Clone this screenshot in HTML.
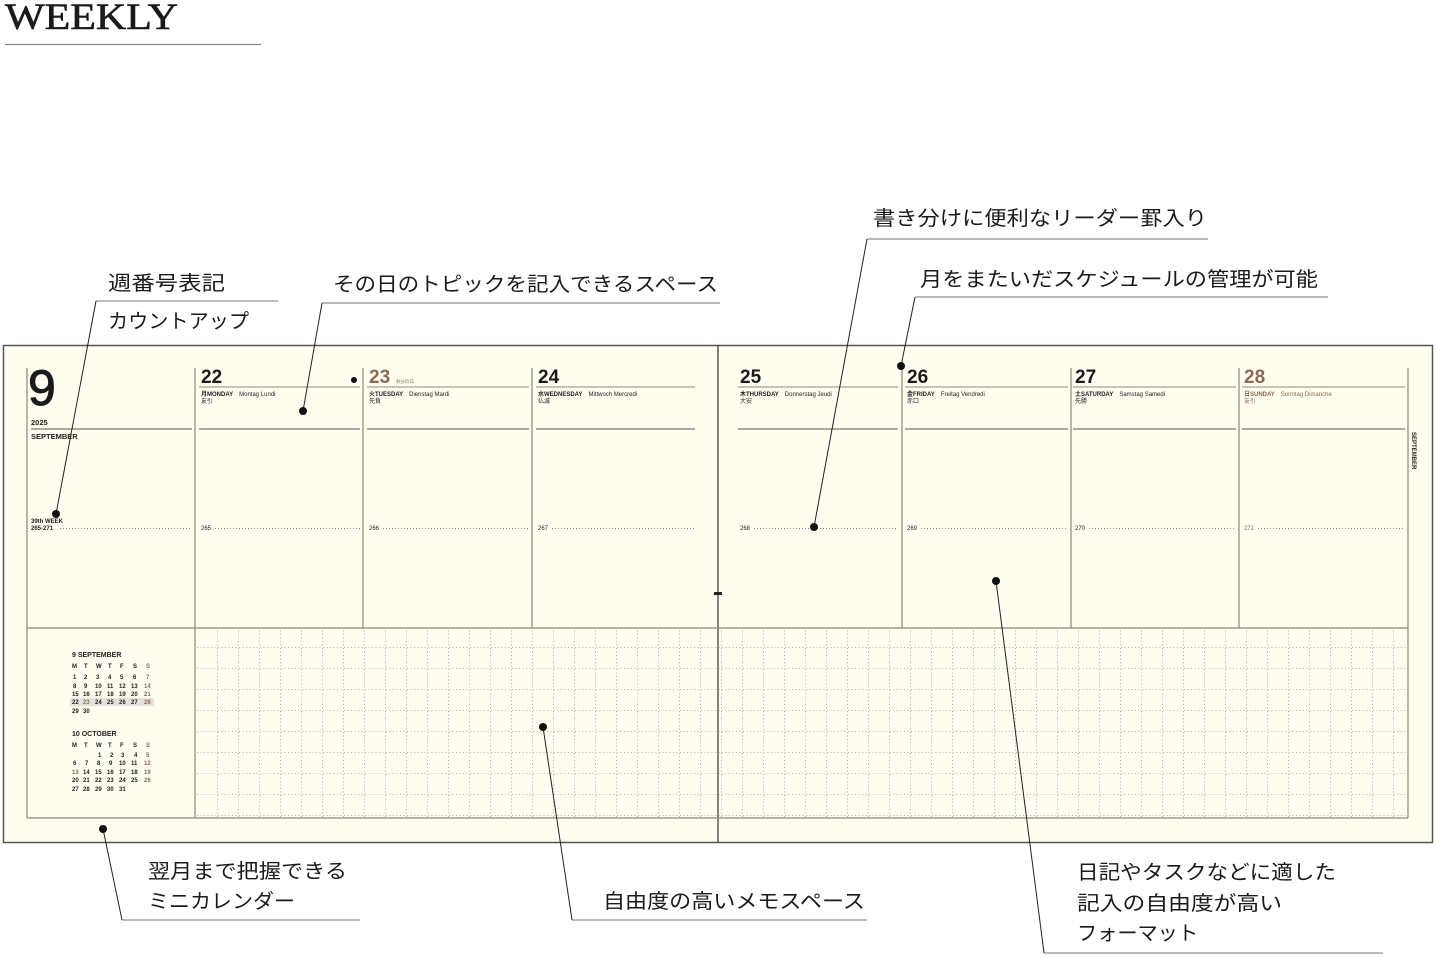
<!DOCTYPE html>
<html><head><meta charset="utf-8"><style>
html,body{margin:0;padding:0;background:#fff;}
svg{display:block}
text{font-family:"Liberation Sans","Noto Sans CJK JP",sans-serif;}
.c{font-size:20px;fill:#1a1a1a;}
</style></head><body>
<svg width="1436" height="958" viewBox="0 0 1436 958" xmlns="http://www.w3.org/2000/svg">
<defs>
<pattern id="g" patternUnits="userSpaceOnUse" x="197" y="627" width="21" height="21">
<line x1="20.5" y1="0" x2="20.5" y2="21" stroke="#999" stroke-width="0.8" stroke-dasharray="1,2.5"/>
<line x1="0" y1="20.5" x2="21" y2="20.5" stroke="#999" stroke-width="0.8" stroke-dasharray="1,2.5"/>
</pattern>
</defs>
<text x="5" y="29" style="font-family:'Liberation Serif',serif" font-size="37" textLength="173" lengthAdjust="spacingAndGlyphs" fill="#1a1a1a" stroke="#1a1a1a" stroke-width="0.6">WEEKLY</text>
<line x1="5" y1="44.5" x2="261" y2="44.5" stroke="#888" stroke-width="1.2"/>

<rect x="3.5" y="345.5" width="1429" height="497" fill="#fffdf0" stroke="#555" stroke-width="1.5"/>
<line x1="718" y1="345" x2="718" y2="842" stroke="#333" stroke-width="1.2"/>
<rect x="714" y="592" width="8" height="3" fill="#222"/>
<rect x="197" y="628" width="1211" height="190" fill="url(#g)"/>
<g stroke="#8a8878" stroke-width="1.2" fill="none">
<line x1="27" y1="368" x2="27" y2="818"/>
<line x1="195" y1="368" x2="195" y2="818"/>
<line x1="27" y1="818" x2="1408" y2="818"/>
<line x1="27" y1="628" x2="1408" y2="628"/>
<line x1="1408" y1="368" x2="1408" y2="818"/>
<line x1="363" y1="368" x2="363" y2="628"/>
<line x1="532" y1="368" x2="532" y2="628"/>
<line x1="902" y1="368" x2="902" y2="628"/>
<line x1="1071" y1="368" x2="1071" y2="628"/>
<line x1="1239" y1="368" x2="1239" y2="628"/>
</g>
<text x="28" y="405" font-size="50" fill="#1a1a1a" stroke="#1a1a1a" stroke-width="1">9</text>
<text x="31" y="425" font-size="7.5" fill="#222" font-weight="bold">2025</text>
<line x1="31" y1="429" x2="192" y2="429" stroke="#555" stroke-width="1"/>
<text x="31" y="439" font-size="7.5" fill="#222" font-weight="bold">SEPTEMBER</text>
<text x="31" y="523" font-size="6" fill="#222" font-weight="bold">39th WEEK</text>
<text x="31" y="530" font-size="6" fill="#222" font-weight="bold">265-271</text>
<line x1="60" y1="528.5" x2="192" y2="528.5" stroke="#888" stroke-dasharray="1,2"/>

<g font-size="6" fill="#222">
<g>
<text x="201" y="383" font-size="19" fill="#1a1a1a" font-weight="bold">22</text>
<line x1="199" y1="387" x2="360" y2="387" stroke="#c9c4b2" stroke-width="2"/>
<text x="201" y="396"><tspan font-weight="bold">月MONDAY</tspan>　Montag Lundi</text><text x="201" y="403">友引</text>
<line x1="199" y1="429" x2="360" y2="429" stroke="#555"/>
<text x="201" y="530">265</text><line x1="215" y1="528.5" x2="360" y2="528.5" stroke="#888" stroke-dasharray="1,2"/>
</g>
<g>
<text x="369" y="383" font-size="19" fill="#8a6a55" font-weight="bold">23</text><text x="396" y="383" font-size="4.5" fill="#8a6a55">秋分の日</text>
<line x1="367" y1="387" x2="529" y2="387" stroke="#c9c4b2" stroke-width="2"/>
<text x="369" y="396"><tspan font-weight="bold">火TUESDAY</tspan>　Dienstag Mardi</text><text x="369" y="403">先負</text>
<line x1="367" y1="429" x2="529" y2="429" stroke="#555"/>
<text x="369" y="530">266</text><line x1="383" y1="528.5" x2="529" y2="528.5" stroke="#888" stroke-dasharray="1,2"/>
</g>
<g>
<text x="538" y="383" font-size="19" fill="#1a1a1a" font-weight="bold">24</text>
<line x1="536" y1="387" x2="695" y2="387" stroke="#c9c4b2" stroke-width="2"/>
<text x="538" y="396"><tspan font-weight="bold">水WEDNESDAY</tspan>　Mittwoch Mercredi</text><text x="538" y="403">仏滅</text>
<line x1="536" y1="429" x2="695" y2="429" stroke="#555"/>
<text x="538" y="530">267</text><line x1="552" y1="528.5" x2="695" y2="528.5" stroke="#888" stroke-dasharray="1,2"/>
</g>
<g>
<text x="740" y="383" font-size="19" fill="#1a1a1a" font-weight="bold">25</text>
<line x1="738" y1="387" x2="898" y2="387" stroke="#c9c4b2" stroke-width="2"/>
<text x="740" y="396"><tspan font-weight="bold">木THURSDAY</tspan>　Donnerstag Jeudi</text><text x="740" y="403">大安</text>
<line x1="738" y1="429" x2="898" y2="429" stroke="#555"/>
<text x="740" y="530">268</text><line x1="754" y1="528.5" x2="898" y2="528.5" stroke="#888" stroke-dasharray="1,2"/>
</g>
<g>
<text x="907" y="383" font-size="19" fill="#1a1a1a" font-weight="bold">26</text>
<line x1="905" y1="387" x2="1068" y2="387" stroke="#c9c4b2" stroke-width="2"/>
<text x="907" y="396"><tspan font-weight="bold">金FRIDAY</tspan>　Freitag Vendredi</text><text x="907" y="403">赤口</text>
<line x1="905" y1="429" x2="1068" y2="429" stroke="#555"/>
<text x="907" y="530">269</text><line x1="921" y1="528.5" x2="1068" y2="528.5" stroke="#888" stroke-dasharray="1,2"/>
</g>
<g>
<text x="1075" y="383" font-size="19" fill="#1a1a1a" font-weight="bold">27</text>
<line x1="1073" y1="387" x2="1236" y2="387" stroke="#c9c4b2" stroke-width="2"/>
<text x="1075" y="396"><tspan font-weight="bold">土SATURDAY</tspan>　Samstag Samedi</text><text x="1075" y="403">先勝</text>
<line x1="1073" y1="429" x2="1236" y2="429" stroke="#555"/>
<text x="1075" y="530">270</text><line x1="1089" y1="528.5" x2="1236" y2="528.5" stroke="#888" stroke-dasharray="1,2"/>
</g>
<g fill="#8a6a55">
<text x="1244" y="383" font-size="19" font-weight="bold">28</text>
<line x1="1242" y1="387" x2="1405" y2="387" stroke="#c9c4b2" stroke-width="2"/>
<text x="1244" y="396"><tspan font-weight="bold">日SUNDAY</tspan>　Sonntag Dimanche</text><text x="1244" y="403">友引</text>
<line x1="1242" y1="429" x2="1405" y2="429" stroke="#555"/>
<text x="1244" y="530">271</text><line x1="1258" y1="528.5" x2="1405" y2="528.5" stroke="#888" stroke-dasharray="1,2"/>
</g>
<text transform="translate(1412,432) rotate(90)" font-size="6" font-weight="bold">SEPTEMBER</text>
</g>

<g font-size="6" fill="#222" font-weight="bold">
<text x="72" y="657" font-size="7">9 SEPTEMBER</text>
<rect x="70" y="698" width="84" height="8" fill="#e4e2dc"/>
<text y="668"><tspan x="72">M</tspan><tspan x="84">T</tspan><tspan x="96">W</tspan><tspan x="108">T</tspan><tspan x="120">F</tspan><tspan x="133">S</tspan><tspan x="146" fill="#8a6a55">S</tspan></text>
<text y="679"><tspan x="73">1</tspan><tspan x="84">2</tspan><tspan x="96">3</tspan><tspan x="108">4</tspan><tspan x="120">5</tspan><tspan x="133">6</tspan><tspan x="146" fill="#8a6a55">7</tspan></text>
<text y="688"><tspan x="73">8</tspan><tspan x="84">9</tspan><tspan x="95">10</tspan><tspan x="107">11</tspan><tspan x="119">12</tspan><tspan x="131">13</tspan><tspan x="144" fill="#8a6a55">14</tspan></text>
<text y="696"><tspan x="72">15</tspan><tspan x="83">16</tspan><tspan x="95">17</tspan><tspan x="107">18</tspan><tspan x="119">19</tspan><tspan x="131">20</tspan><tspan x="144" fill="#8a6a55">21</tspan></text>
<text y="704"><tspan x="72">22</tspan><tspan x="83" fill="#8a6a55">23</tspan><tspan x="95">24</tspan><tspan x="107">25</tspan><tspan x="119">26</tspan><tspan x="131">27</tspan><tspan x="144" fill="#8a6a55">28</tspan></text>
<text y="713"><tspan x="72">29</tspan><tspan x="83">30</tspan></text>
<text x="72" y="736" font-size="7">10 OCTOBER</text>
<text y="747"><tspan x="72">M</tspan><tspan x="84">T</tspan><tspan x="96">W</tspan><tspan x="108">T</tspan><tspan x="120">F</tspan><tspan x="133">S</tspan><tspan x="146" fill="#8a6a55">S</tspan></text>
<text y="757"><tspan x="98">1</tspan><tspan x="110">2</tspan><tspan x="121">3</tspan><tspan x="134">4</tspan><tspan x="146" fill="#8a6a55">5</tspan></text>
<text y="765"><tspan x="73">6</tspan><tspan x="85">7</tspan><tspan x="97">8</tspan><tspan x="109">9</tspan><tspan x="119">10</tspan><tspan x="131">11</tspan><tspan x="144" fill="#8a6a55">12</tspan></text>
<text y="774"><tspan x="72" fill="#8a6a55">13</tspan><tspan x="83">14</tspan><tspan x="95">15</tspan><tspan x="107">16</tspan><tspan x="119">17</tspan><tspan x="131">18</tspan><tspan x="144" fill="#8a6a55">19</tspan></text>
<text y="782"><tspan x="72">20</tspan><tspan x="83">21</tspan><tspan x="95">22</tspan><tspan x="107">23</tspan><tspan x="119">24</tspan><tspan x="131">25</tspan><tspan x="144" fill="#8a6a55">26</tspan></text>
<text y="791"><tspan x="72">27</tspan><tspan x="83">28</tspan><tspan x="95">29</tspan><tspan x="107">30</tspan><tspan x="119">31</tspan></text>
</g>

<g stroke="#222" stroke-width="1" fill="none">
<line x1="96" y1="301" x2="278" y2="301" stroke="#777"/>
<line x1="96" y1="301" x2="56" y2="514"/>
<line x1="322" y1="303" x2="720" y2="303" stroke="#777"/>
<line x1="322" y1="303" x2="303" y2="411"/>
<line x1="867" y1="239" x2="1208" y2="239" stroke="#777"/>
<line x1="867" y1="239" x2="814" y2="527"/>
<line x1="915" y1="297" x2="1328" y2="297" stroke="#777"/>
<line x1="915" y1="297" x2="901" y2="366"/>
<line x1="122" y1="920" x2="360" y2="920" stroke="#777"/>
<line x1="122" y1="920" x2="103" y2="829"/>
<line x1="572" y1="920" x2="867" y2="920" stroke="#777"/>
<line x1="572" y1="920" x2="543" y2="727"/>
<line x1="1044" y1="953" x2="1383" y2="953" stroke="#777"/>
<line x1="1044" y1="953" x2="996" y2="581"/>
</g>
<g fill="#111">
<circle cx="56" cy="514" r="4"/><circle cx="303" cy="411" r="4"/><circle cx="354" cy="380" r="3"/>
<circle cx="814" cy="527" r="4"/><circle cx="901" cy="366" r="4"/><circle cx="103" cy="829" r="4"/>
<circle cx="543" cy="727" r="4"/><circle cx="996" cy="581" r="4"/>
</g>
<g>
<text class="c" x="108" y="290" textLength="117" lengthAdjust="spacingAndGlyphs">週番号表記</text>
<text class="c" x="108" y="328" textLength="141" lengthAdjust="spacingAndGlyphs">カウントアップ</text>
<text class="c" x="333" y="291" textLength="385" lengthAdjust="spacingAndGlyphs">その日のトピックを記入できるスペース</text>
<text class="c" x="873" y="225" textLength="334" lengthAdjust="spacingAndGlyphs">書き分けに便利なリーダー罫入り</text>
<text class="c" x="920" y="286" textLength="398" lengthAdjust="spacingAndGlyphs">月をまたいだスケジュールの管理が可能</text>
<text class="c" x="148" y="878" textLength="199" lengthAdjust="spacingAndGlyphs">翌月まで把握できる</text>
<text class="c" x="148" y="908" textLength="147" lengthAdjust="spacingAndGlyphs">ミニカレンダー</text>
<text class="c" x="603" y="908" textLength="262" lengthAdjust="spacingAndGlyphs">自由度の高いメモスペース</text>
<text class="c" x="1077" y="879" textLength="259" lengthAdjust="spacingAndGlyphs">日記やタスクなどに適した</text>
<text class="c" x="1077" y="910" textLength="205" lengthAdjust="spacingAndGlyphs">記入の自由度が高い</text>
<text class="c" x="1077" y="940" textLength="121" lengthAdjust="spacingAndGlyphs">フォーマット</text>
</g>
</svg>
</body></html>
